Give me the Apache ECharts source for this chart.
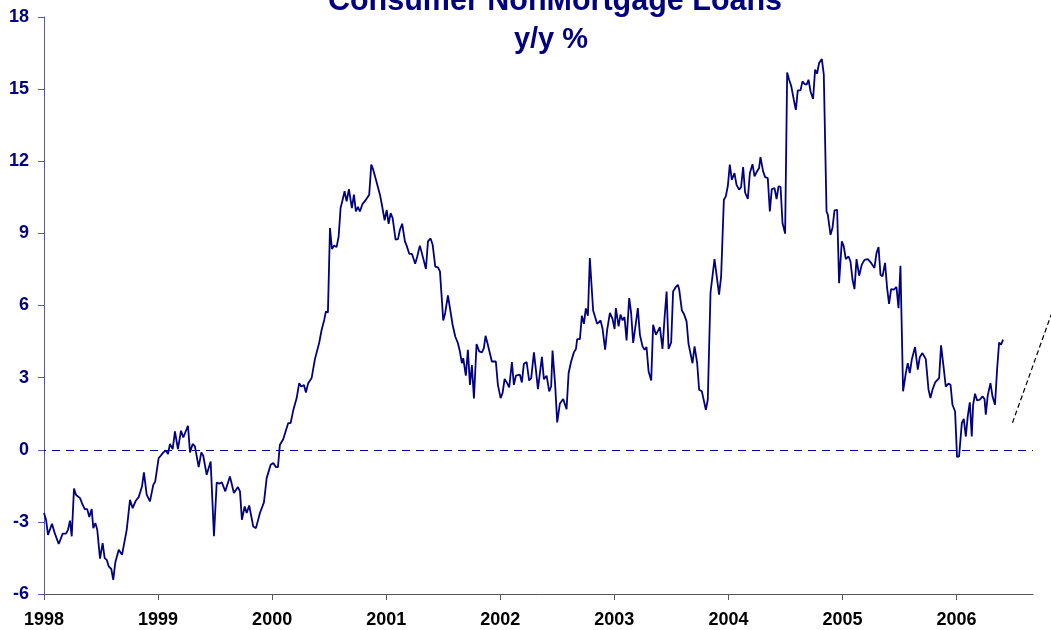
<!DOCTYPE html>
<html>
<head>
<meta charset="utf-8">
<title>Consumer NonMortgage Loans</title>
<script src="https://cdn.jsdelivr.net/npm/echarts@6/dist/echarts.min.js"></script>
<style>
  html, body { margin: 0; padding: 0; background: #fff; }
  #chart { width: 1051px; height: 630px; }
</style>
</head>
<body>
<div id="chart"></div>
<script>
// decimal years, one line per calendar year
const dates = [
  1998.000, 1998.018, 1998.035, 1998.070, 1998.094, 1998.111, 1998.129, 1998.164, 1998.193, 1998.210, 1998.228, 1998.243, 1998.263, 1998.280, 1998.316, 1998.333, 1998.357, 1998.379, 1998.397, 1998.418, 1998.432, 1998.450, 1998.467, 1998.491, 1998.514, 1998.532, 1998.550, 1998.567, 1998.590, 1998.607, 1998.625, 1998.655, 1998.666, 1998.684, 1998.701, 1998.725, 1998.754, 1998.777, 1998.806, 1998.830, 1998.859, 1998.876, 1998.900, 1998.929, 1998.958, 1998.975,
  1999.005, 1999.023, 1999.046, 1999.069, 1999.087, 1999.104, 1999.128, 1999.148, 1999.174, 1999.201, 1999.221, 1999.238, 1999.262, 1999.280, 1999.303, 1999.323, 1999.356, 1999.379, 1999.396, 1999.426, 1999.443, 1999.461, 1999.472, 1999.490, 1999.514, 1999.536, 1999.560, 1999.589, 1999.630, 1999.665, 1999.700, 1999.718, 1999.735, 1999.759, 1999.777, 1999.799, 1999.834, 1999.858, 1999.893, 1999.928, 1999.952, 1999.987,
  2000.010, 2000.033, 2000.051, 2000.068, 2000.097, 2000.141, 2000.162, 2000.185, 2000.215, 2000.237, 2000.255, 2000.279, 2000.296, 2000.316, 2000.346, 2000.375, 2000.390, 2000.413, 2000.434, 2000.457, 2000.471, 2000.489, 2000.507, 2000.524, 2000.542, 2000.565, 2000.583, 2000.600, 2000.618, 2000.635, 2000.653, 2000.673, 2000.699, 2000.717, 2000.734, 2000.752, 2000.769, 2000.793, 2000.816, 2000.833, 2000.851, 2000.869, 2000.886, 2000.910, 2000.945, 2000.962, 2000.986,
  2001.004, 2001.021, 2001.039, 2001.056, 2001.082, 2001.103, 2001.120, 2001.140, 2001.164, 2001.179, 2001.202, 2001.225, 2001.237, 2001.254, 2001.272, 2001.295, 2001.324, 2001.348, 2001.366, 2001.389, 2001.407, 2001.430, 2001.453, 2001.471, 2001.500, 2001.517, 2001.541, 2001.558, 2001.582, 2001.605, 2001.628, 2001.646, 2001.663, 2001.675, 2001.698, 2001.716, 2001.734, 2001.751, 2001.769, 2001.792, 2001.815, 2001.839, 2001.856, 2001.871, 2001.891, 2001.903, 2001.926, 2001.961, 2001.979,
  2002.003, 2002.020, 2002.038, 2002.060, 2002.078, 2002.102, 2002.119, 2002.137, 2002.154, 2002.172, 2002.189, 2002.207, 2002.231, 2002.253, 2002.271, 2002.295, 2002.312, 2002.330, 2002.365, 2002.382, 2002.406, 2002.429, 2002.446, 2002.458, 2002.481, 2002.499, 2002.522, 2002.551, 2002.581, 2002.599, 2002.621, 2002.645, 2002.663, 2002.674, 2002.698, 2002.715, 2002.733, 2002.750, 2002.768, 2002.785, 2002.814, 2002.826, 2002.849, 2002.879, 2002.897, 2002.919, 2002.937, 2002.961, 2002.984,
  2003.002, 2003.013, 2003.037, 2003.054, 2003.072, 2003.089, 2003.107, 2003.130, 2003.147, 2003.165, 2003.182, 2003.206, 2003.224, 2003.247, 2003.265, 2003.282, 2003.300, 2003.323, 2003.340, 2003.364, 2003.381, 2003.399, 2003.422, 2003.440, 2003.458, 2003.475, 2003.498, 2003.515, 2003.539, 2003.557, 2003.568, 2003.592, 2003.609, 2003.633, 2003.650, 2003.685, 2003.703, 2003.726, 2003.743, 2003.767, 2003.784, 2003.802, 2003.819, 2003.843, 2003.878, 2003.918, 2003.936, 2003.960, 2003.977, 2003.995,
  2004.012, 2004.030, 2004.053, 2004.071, 2004.094, 2004.111, 2004.129, 2004.146, 2004.170, 2004.188, 2004.211, 2004.229, 2004.246, 2004.269, 2004.281, 2004.304, 2004.322, 2004.345, 2004.363, 2004.380, 2004.404, 2004.422, 2004.439, 2004.457, 2004.474, 2004.497, 2004.515, 2004.532, 2004.550, 2004.573, 2004.591, 2004.608, 2004.632, 2004.649, 2004.667, 2004.685, 2004.702, 2004.720, 2004.742, 2004.760, 2004.777, 2004.795, 2004.819, 2004.836, 2004.860, 2004.871, 2004.895, 2004.912, 2004.930, 2004.953, 2004.970, 2004.994,
  2005.011, 2005.029, 2005.053, 2005.070, 2005.088, 2005.105, 2005.123, 2005.146, 2005.169, 2005.193, 2005.222, 2005.251, 2005.280, 2005.298, 2005.316, 2005.333, 2005.351, 2005.373, 2005.391, 2005.408, 2005.426, 2005.450, 2005.473, 2005.491, 2005.508, 2005.531, 2005.555, 2005.572, 2005.590, 2005.607, 2005.636, 2005.660, 2005.678, 2005.701, 2005.730, 2005.754, 2005.771, 2005.789, 2005.812, 2005.829, 2005.847, 2005.864, 2005.888, 2005.905, 2005.929, 2005.947, 2005.964, 2005.987,
  2006.004, 2006.022, 2006.046, 2006.063, 2006.081, 2006.098, 2006.116, 2006.133, 2006.145, 2006.162, 2006.180, 2006.203, 2006.227, 2006.245, 2006.256, 2006.273, 2006.297, 2006.315, 2006.337, 2006.355, 2006.373, 2006.390, 2006.408
];

// y/y % change, same order as dates
const yoyPct = [
  -2.63, -2.91, -3.54, -3.08, -3.47, -3.44, -3.92, -3.49, -3.49, -3.33, -2.95, -3.60, -1.61, -1.87, -2.01, -2.22, -2.47, -2.47, -2.80, -2.47, -3.26, -3.05, -3.33, -4.53, -3.88, -4.51, -4.58, -4.85, -4.96, -5.41, -4.69, -4.16, -4.09, -4.37, -4.30, -3.33, -2.08, -2.43, -2.11, -1.97, -1.53, -0.94, -1.87, -2.15, -1.46, -1.32,
  -0.35, -0.25, -0.11, -0.03, -0.18, 0.24, 0.03, 0.76, 0.03, 0.79, 0.51, 0.44, 1.00, -0.11, 0.24, 0.14, -0.72, -0.11, -0.25, -1.04, -1.11, -0.49, -0.44, -3.60, -1.36, -1.41, -1.36, -1.73, -1.11, -1.80, -1.55, -1.73, -2.91, -2.36, -2.63, -2.32, -3.19, -3.26, -2.63, -2.19, -1.18, -0.62,
  -0.55, -0.72, -0.72, 0.21, 0.44, 1.11, 1.11, 1.64, 2.15, 2.77, 2.63, 2.69, 2.38, 2.77, 2.98, 3.77, 3.71, 4.46, 4.99, 5.41, 5.75, 5.71, 9.22, 8.35, 8.49, 8.43, 8.87, 10.05, 10.40, 10.75, 10.33, 10.84, 10.05, 10.61, 9.91, 10.10, 9.91, 10.23, 10.36, 10.30, 10.61, 11.86, 11.65, 11.23, 10.61, 10.19, 9.54,
  9.98, 9.40, 9.84, 9.64, 8.74, 8.76, 9.15, 9.40, 8.67, 8.49, 8.15, 8.15, 8.21, 7.74, 8.04, 8.49, 7.97, 7.52, 8.67, 8.79, 8.53, 7.62, 7.59, 7.42, 5.38, 5.69, 6.42, 6.41, 5.20, 4.71, 4.44, 4.09, 3.60, 3.81, 3.08, 4.16, 2.70, 3.52, 2.13, 4.40, 4.09, 4.05, 4.23, 4.74, 4.37, 4.41, 3.67, 3.67, 2.70,
  2.15, 2.36, 2.95, 2.77, 2.59, 3.65, 2.70, 3.08, 3.05, 3.12, 2.80, 3.58, 3.65, 2.88, 2.98, 4.05, 3.33, 2.52, 3.86, 2.94, 3.08, 2.43, 2.63, 4.13, 2.70, 1.14, 1.91, 2.11, 1.69, 3.19, 3.67, 4.05, 4.19, 4.60, 4.60, 5.57, 5.24, 5.88, 5.57, 7.97, 5.79, 5.71, 5.24, 5.38, 5.02, 4.16, 4.99, 5.69, 5.44,
  5.02, 5.89, 5.13, 5.62, 5.38, 5.52, 4.55, 6.31, 5.69, 4.44, 4.51, 5.89, 4.78, 4.30, 4.16, 4.27, 3.26, 2.88, 5.20, 4.78, 4.71, 5.10, 4.19, 5.48, 6.58, 4.19, 4.46, 6.58, 6.77, 6.86, 6.68, 5.79, 5.66, 5.34, 4.41, 3.60, 4.30, 3.60, 2.50, 2.43, 2.38, 1.66, 2.08, 6.54, 7.93, 6.45, 7.21, 10.40, 10.54, 10.98,
  11.86, 11.23, 11.51, 11.02, 10.82, 10.93, 11.76, 10.70, 10.43, 11.51, 11.88, 11.37, 11.54, 11.72, 12.17, 11.58, 11.34, 11.30, 9.91, 10.84, 10.88, 10.43, 10.95, 10.93, 9.43, 8.99, 15.69, 15.39, 15.14, 14.56, 14.14, 14.95, 14.95, 15.32, 15.22, 15.18, 15.39, 14.90, 14.59, 15.81, 15.64, 16.09, 16.25, 15.60, 9.91, 9.78, 8.94, 9.22, 9.96, 9.98, 6.93, 8.67,
  8.46, 7.93, 8.04, 7.83, 7.07, 6.68, 7.93, 7.24, 7.70, 7.90, 7.93, 7.77, 7.56, 8.18, 8.43, 7.28, 7.21, 7.77, 6.73, 6.07, 6.68, 6.66, 6.77, 5.89, 7.65, 2.43, 3.19, 3.60, 3.19, 3.74, 4.27, 3.33, 3.86, 4.02, 3.77, 2.50, 2.15, 2.50, 2.80, 2.88, 2.98, 4.34, 3.36, 2.63, 2.75, 2.70, 1.87, 1.59,
  -0.30, -0.28, 1.11, 1.28, 0.55, 1.39, 1.97, 0.55, 1.87, 2.33, 2.05, 2.08, 2.22, 2.11, 1.46, 2.25, 2.77, 2.22, 1.87, 3.33, 4.46, 4.37, 4.58
];

// dashed black stroke running off the right edge
const trendDates = [2006.49, 2006.93];
const trendValues = [1.12, 6.95];

const yearTicks = [1998, 1999, 2000, 2001, 2002, 2003, 2004, 2005, 2006];

const chartInstance = echarts.init(document.getElementById("chart"), null, { renderer: "canvas" });

const font = 'Arial, "Liberation Sans", sans-serif';
const titleStyle = {
  color: "#000080",
  fontFamily: font,
  fontWeight: "bold",
};

// main plot area: 44..1033 px for 1998..2006.67
const xMin = 1998;
const xMax = 2006.67;
const pxPerYear = (1051 - 18 - 44) / (xMax - xMin);

const initOption = {
  animation: false,
  title: [
    {
      text: "Consumer NonMortgage Loans",
      left: 555,
      top: -14,
      padding: 0,
      textAlign: "center",
      textStyle: { ...titleStyle, fontSize: 30.5, lineHeight: 30.5 },
    },
    {
      text: "y/y %",
      left: 551,
      top: 25,
      padding: 0,
      textAlign: "center",
      textStyle: { ...titleStyle, fontSize: 29, lineHeight: 29 },
    },
  ],
  grid: [
    { left: 44, right: 18, top: 17, bottom: 36, containLabel: false },
    // same scale, stretched to the page edge, for the trend stroke
    { left: 44, right: 0, top: 17, bottom: 36, containLabel: false },
  ],
  xAxis: [
    {
      type: "value",
      gridIndex: 0,
      min: xMin,
      max: xMax,
      interval: 1,
      splitLine: { show: false },
      axisLine: {
        onZero: false,
        lineStyle: { color: "#555555", width: 1 },
      },
      axisTick: {
        length: 6,
        customValues: yearTicks,
        lineStyle: { color: "#555555" },
      },
      axisLabel: {
        customValues: yearTicks,
        margin: 17,
        color: "#000000",
        fontFamily: font,
        fontWeight: "bold",
        fontSize: 18,
        formatter: (v) => String(Math.round(v)),
      },
    },
    {
      type: "value",
      gridIndex: 1,
      min: xMin,
      max: xMin + (1051 - 44) / pxPerYear,
      show: false,
    },
  ],
  yAxis: [
    {
      type: "value",
      gridIndex: 0,
      min: -6,
      max: 18,
      interval: 3,
      splitLine: { show: false },
      axisLine: {
        show: true,
        lineStyle: { color: "#5858a8", width: 1 },
      },
      axisTick: {
        show: true,
        length: 6,
        lineStyle: { color: "#5858a8" },
      },
      axisLabel: {
        margin: 15,
        color: "#000080",
        fontFamily: font,
        fontWeight: "bold",
        fontSize: 18,
      },
    },
    {
      type: "value",
      gridIndex: 1,
      min: -6,
      max: 18,
      show: false,
    },
  ],
  series: [
    {
      type: "line",
      xAxisIndex: 0,
      yAxisIndex: 0,
      data: dates.map((d, i) => [d, yoyPct[i]]),
      showSymbol: false,
      symbol: "none",
      color: "#000080",
      lineStyle: { width: 1.8, color: "#000080" },
      markLine: {
        silent: true,
        symbol: "none",
        label: { show: false },
        lineStyle: { type: [8, 6], dashOffset: -8, color: "#000080", width: 1.2 },
        data: [{ yAxis: 0 }],
      },
    },
    {
      type: "line",
      xAxisIndex: 1,
      yAxisIndex: 1,
      data: trendDates.map((d, i) => [d, trendValues[i]]),
      showSymbol: false,
      symbol: "none",
      lineStyle: { width: 1.2, color: "#000000", type: [5, 3] },
    },
  ],
};

chartInstance.setOption(initOption);
</script>
</body>
</html>
